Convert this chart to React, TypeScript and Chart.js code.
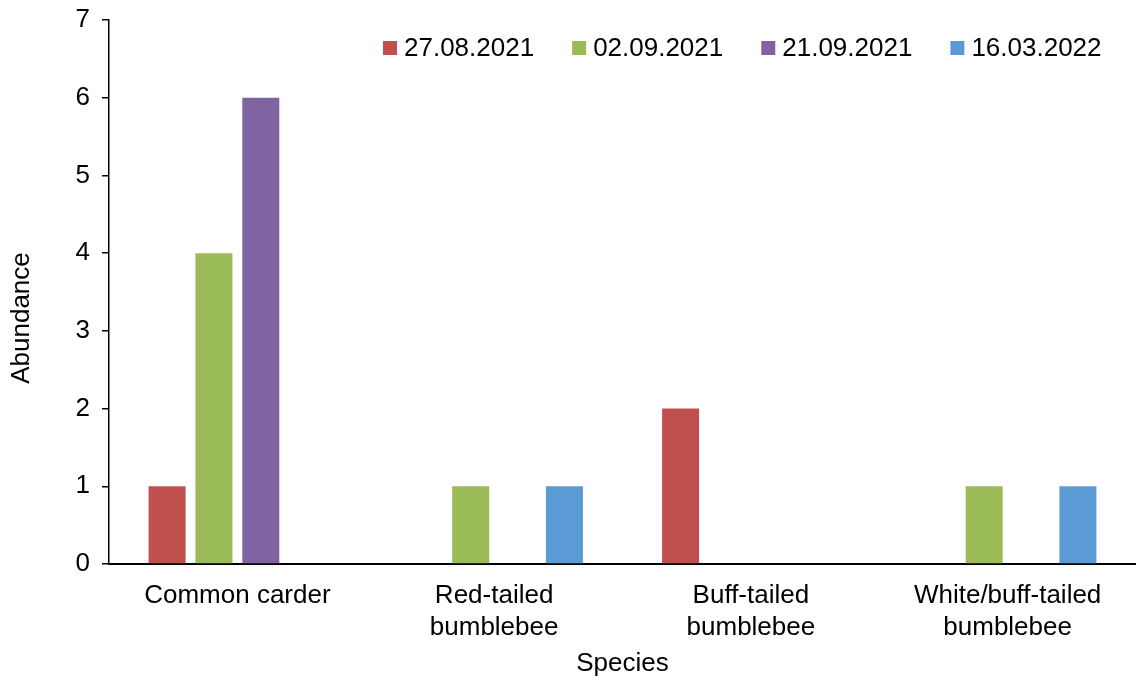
import React, { useEffect, useRef } from "react";
import { Chart, registerables } from "chart.js";

Chart.register(...registerables);

const categories: (string | string[])[] = [
  "Common carder",
  ["Red-tailed", "bumblebee"],
  ["Buff-tailed", "bumblebee"],
  ["White/buff-tailed", "bumblebee"],
];
const seriesNames = ["27.08.2021", "02.09.2021", "21.09.2021", "16.03.2022"];
const seriesColors = ["#C0504D", "#9BBB59", "#8064A2", "#5B9BD5"];
const s1 = [1, 0, 2, 0];
const s2 = [4, 1, 0, 1];
const s3 = [6, 0, 0, 0];
const s4 = [0, 1, 0, 1];
const yTicks = [0, 1, 2, 3, 4, 5, 6, 7];
const yTitle = "Abundance";
const xTitle = "Species";

const FONT = "'Liberation Sans', Arial, sans-serif";

const overlayPlugin = {
  id: "overlay",
  afterDraw(chart: any) {
    const ctx = chart.ctx;
    ctx.save();
    ctx.font = `26px ${FONT}`;
    ctx.textBaseline = "middle";
    ctx.textAlign = "left";
    let x = 383;
    const cy = 48;
    chart.data.datasets.forEach((ds: any) => {
      ctx.fillStyle = ds.backgroundColor;
      ctx.fillRect(x, cy - 7, 14, 14);
      ctx.fillStyle = "#000";
      ctx.fillText(ds.label, x + 21, cy + 1);
      const w = ctx.measureText(ds.label).width;
      x += 21 + w + 38;
    });
    // y-axis title
    ctx.translate(22, 318);
    ctx.rotate(-Math.PI / 2);
    ctx.textAlign = "center";
    ctx.fillText(yTitle, 0, 0);
    ctx.restore();
  },
};

export default function App() {
  const ref = useRef<HTMLCanvasElement>(null);
  useEffect(() => {
    if (!ref.current) return;
    const data = [s1, s2, s3, s4];
    const chart = new Chart(ref.current, {
      type: "bar",
      data: {
        labels: categories,
        datasets: seriesNames.map((name, i) => ({
          label: name,
          data: data[i],
          backgroundColor: seriesColors[i],
          borderWidth: 0,
          categoryPercentage: 0.73,
          barPercentage: 0.79,
        })),
      },
      options: {
        responsive: false,
        animation: false,
        layout: { padding: { top: 20, right: 0, bottom: 0, left: 0 } },
        plugins: {
          legend: { display: false },
          tooltip: { enabled: false },
        },
        scales: {
          x: {
            grid: { display: false },
            border: { display: true, color: "#000", width: 2 },
            ticks: {
              color: "#000",
              font: { family: FONT, size: 26, lineHeight: 1.23 },
              padding: 8,
              maxRotation: 0,
              autoSkip: false,
            },
            title: {
              display: true,
              text: xTitle,
              color: "#000",
              font: { family: FONT, size: 26 },
              padding: { top: 0, bottom: 2 },
            },
            afterFit(scale: any) {
              scale.height = 117;
              scale.paddingLeft = 0;
              scale.paddingRight = 0;
            },
          },
          y: {
            min: 0,
            max: 7,
            afterBuildTicks(scale: any) {
              scale.ticks = yTicks.map((v) => ({ value: v }));
            },
            grid: {
              display: true,
              drawOnChartArea: false,
              drawTicks: true,
              tickLength: 7,
              color: "#000",
              lineWidth: 1.5,
            },
            border: { display: true, color: "#000", width: 1.5 },
            ticks: {
              color: "#000",
              font: { family: FONT, size: 26 },
              padding: 12,
            },
            title: { display: false },
            afterFit(scale: any) {
              scale.width = 109;
              scale.paddingTop = 0;
              scale.paddingBottom = 0;
            },
          },
        },
      },
      plugins: [overlayPlugin],
    });
    return () => chart.destroy();
  }, []);
  return (
    <div style={{ position: "absolute", left: 0, top: 0, width: 1136, height: 681, background: "#fff" }}>
      <canvas ref={ref} width={1136} height={681} style={{ display: "block" }} />
    </div>
  );
}
